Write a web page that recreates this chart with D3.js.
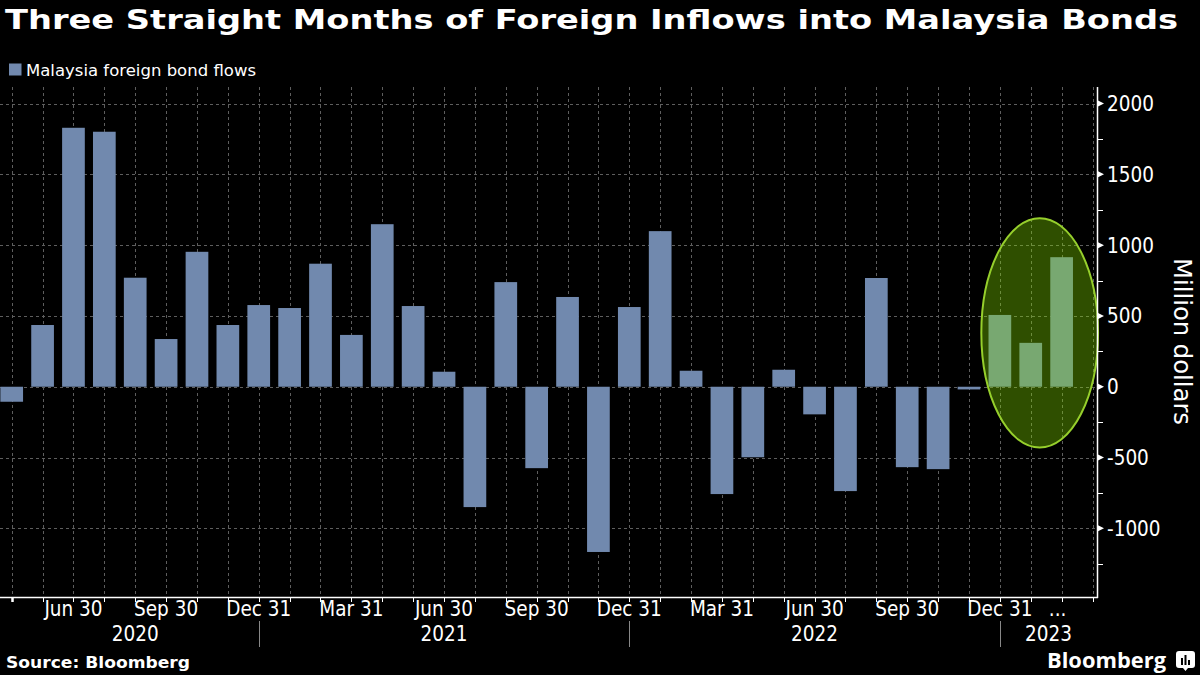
<!DOCTYPE html>
<html>
<head>
<meta charset="utf-8">
<script src="https://cdn.jsdelivr.net/npm/d3@7"></script>
<style>
  html, body { margin: 0; padding: 0; background: #000; }
  svg { display: block; }
  .cond { font-family: "DejaVu Sans Condensed", "DejaVu Sans", sans-serif; font-stretch: condensed; }
</style>
</head>
<body>
<svg id="chart" width="1200" height="675"></svg>
<script>
// ---------- DATA ----------
const months = [
  "2020-04","2020-05","2020-06","2020-07","2020-08","2020-09","2020-10","2020-11","2020-12",
  "2021-01","2021-02","2021-03","2021-04","2021-05","2021-06","2021-07","2021-08","2021-09",
  "2021-10","2021-11","2021-12","2022-01","2022-02","2022-03","2022-04","2022-05","2022-06",
  "2022-07","2022-08","2022-09","2022-10","2022-11","2022-12","2023-01","2023-02","2023-03"
];
const flows = [
  -106, 436, 1829, 1801, 770, 337, 953, 436, 577,
  556, 869, 366, 1148, 570, 106, -850, 739, -575,
  634, -1167, 563, 1099, 113, -758, -498, 120, -195,
  -737, 768, -568, -582, -19, 507, 310, 915
];
const tickLabels = ["Jun 30","Sep 30","Dec 31","Mar 31","Jun 30","Sep 30","Dec 31","Mar 31","Jun 30","Sep 30","Dec 31","..."];
const tickLabelIdx = [2,5,8,11,14,17,20,23,26,29,32,34];
const years = ["2020","2021","2022","2023"];
const yearBounds = [0, 8, 20, 32, 35.15];   // month-index boundaries of each year block
const yTicks = [-1000,-500,0,500,1000,1500,2000];
const yMinor = [-1250,-750,-250,250,750,1250,1750];
const highlight = {from: 31.4, to: 35.18, lo: -430, hi: 1190};

// ---------- LAYOUT ----------
const svg = d3.select("#chart");
const W = 1200, H = 675;
const axisX = 1097, plotTop = 87, plotBottom = 597;

const x = d3.scaleLinear().domain([0, months.length - 1]).range([11.7, 1092.5]);
const y = d3.scaleLinear().domain([-1485, 2117]).range([plotBottom, plotTop]);
const barW = 22.7;
const barColor = "#7189ae";

svg.append("rect").attr("width", W).attr("height", H).attr("fill", "#000");

// Title
svg.append("text")
  .attr("x", 5).attr("y", 29)
  .attr("textLength", 1173).attr("lengthAdjust", "spacingAndGlyphs")
  .attr("font-family", "DejaVu Sans, sans-serif").attr("font-weight", "bold")
  .attr("font-size", 26).attr("fill", "#fff")
  .text("Three Straight Months of Foreign Inflows into Malaysia Bonds");

// Legend
svg.append("rect").attr("x", 9).attr("y", 63.5).attr("width", 12.5).attr("height", 12).attr("fill", barColor);
svg.append("text").attr("x", 26).attr("y", 75.5)
  .attr("font-family", "DejaVu Sans, sans-serif").attr("font-size", 15.5).attr("fill", "#fff")
  .attr("textLength", 230).attr("lengthAdjust", "spacingAndGlyphs")
  .text("Malaysia foreign bond flows");

// Grid
const grid = svg.append("g").attr("stroke", "#5e5e5e").attr("stroke-width", 1).attr("stroke-dasharray", "3,3");
grid.selectAll("line.h").data(yTicks).join("line")
  .attr("x1", 0).attr("x2", axisX).attr("y1", d => Math.round(y(d)) + 0.5).attr("y2", d => Math.round(y(d)) + 0.5);
grid.selectAll("line.v").data(months).join("line")
  .attr("x1", (d, i) => Math.round(x(i)) + 0.5).attr("x2", (d, i) => Math.round(x(i)) + 0.5)
  .attr("y1", plotTop).attr("y2", plotBottom);

// Bars
svg.append("g").selectAll("rect").data(flows).join("rect")
  .attr("x", (d, i) => x(i) - barW / 2)
  .attr("width", barW)
  .attr("y", d => y(Math.max(0, d)))
  .attr("height", d => Math.max(1.5, Math.abs(y(d) - y(0))))
  .attr("fill", barColor);

// Highlight ellipse
svg.append("ellipse")
  .attr("cx", (x(highlight.from) + x(highlight.to)) / 2)
  .attr("cy", (y(highlight.lo) + y(highlight.hi)) / 2)
  .attr("rx", (x(highlight.to) - x(highlight.from)) / 2)
  .attr("ry", (y(highlight.lo) - y(highlight.hi)) / 2)
  .attr("fill", "rgba(134,225,0,0.35)")
  .attr("stroke", "#96cf2c").attr("stroke-width", 2);

// X axis
svg.append("line").attr("x1", 0).attr("x2", axisX + 1).attr("y1", plotBottom + 0.5).attr("y2", plotBottom + 0.5)
  .attr("stroke", "#fff").attr("stroke-width", 1.5);
svg.append("g").selectAll("line").data(months).join("line")
  .attr("x1", (d, i) => Math.round(x(i)) + 0.5).attr("x2", (d, i) => Math.round(x(i)) + 0.5)
  .attr("y1", plotBottom).attr("y2", plotBottom + 5)
  .attr("stroke", "#fff").attr("stroke-width", (d, i) => i === 0 ? 2.5 : 1);

svg.append("g").selectAll("text").data(tickLabels).join("text")
  .attr("class", "cond")
  .attr("x", (d, i) => d === "..." ? x(tickLabelIdx[i]) - 4 : x(tickLabelIdx[i]))
  .attr("y", 616)
  .attr("text-anchor", "middle").attr("font-size", 20.5).attr("fill", "#fff")
  .text(d => d);

// Year separators and labels
svg.append("g").selectAll("line").data(yearBounds.slice(1, -1)).join("line")
  .attr("x1", d => Math.round(x(d)) + 0.5).attr("x2", d => Math.round(x(d)) + 0.5)
  .attr("y1", 621).attr("y2", 647)
  .attr("stroke", "#888").attr("stroke-width", 1);
svg.append("g").selectAll("text").data(years).join("text")
  .attr("class", "cond")
  .attr("x", (d, i) => (x(yearBounds[i]) + x(yearBounds[i + 1])) / 2)
  .attr("y", 641)
  .attr("text-anchor", "middle").attr("font-size", 20.5).attr("fill", "#fff")
  .text(d => d);

// Y axis
svg.append("line").attr("x1", axisX + 0.5).attr("x2", axisX + 0.5).attr("y1", plotTop).attr("y2", plotBottom + 1)
  .attr("stroke", "#fff").attr("stroke-width", 1.5);
svg.append("g").selectAll("path").data(yTicks).join("path")
  .attr("d", d => `M${axisX},${y(d) - 3.5}L${axisX + 7},${y(d)}L${axisX},${y(d) + 3.5}Z`)
  .attr("fill", "#fff");
svg.append("g").selectAll("line").data(yMinor).join("line")
  .attr("x1", axisX).attr("x2", axisX + 6)
  .attr("y1", d => Math.round(y(d)) + 0.5).attr("y2", d => Math.round(y(d)) + 0.5)
  .attr("stroke", "#fff").attr("stroke-width", 1);
svg.append("g").selectAll("text").data(yTicks).join("text")
  .attr("class", "cond")
  .attr("x", axisX + 10).attr("y", d => y(d) + 7.5)
  .attr("font-size", 20.5).attr("fill", "#fff")
  .text(d => d);

svg.append("text")
  .attr("class", "cond")
  .attr("transform", `translate(1174,341.5) rotate(90)`)
  .attr("text-anchor", "middle").attr("font-size", 24).attr("fill", "#fff")
  .attr("textLength", 167).attr("lengthAdjust", "spacingAndGlyphs")
  .text("Million dollars");

// Footer
svg.append("text").attr("x", 6).attr("y", 668)
  .attr("font-family", "DejaVu Sans, sans-serif").attr("font-weight", "bold")
  .attr("font-size", 16.5).attr("fill", "#fff")
  .attr("textLength", 184).attr("lengthAdjust", "spacingAndGlyphs")
  .text("Source: Bloomberg");

svg.append("text").attr("x", 1166).attr("y", 668)
  .attr("text-anchor", "end")
  .attr("font-family", "Open Sans, DejaVu Sans, sans-serif").attr("font-weight", "bold")
  .attr("font-size", 22).attr("fill", "#fff")
  .attr("textLength", 119).attr("lengthAdjust", "spacingAndGlyphs")
  .text("Bloomberg");

// Logo icon
const logo = svg.append("g").attr("transform", "translate(1176,651)");
logo.append("path").attr("d", "M3,0H16Q19,0 19,3V14Q19,17 16,17H12L9.5,20L7,17H3Q0,17 0,14V3Q0,0 3,0Z").attr("fill", "#fff");
logo.append("rect").attr("x", 5).attr("y", 7).attr("width", 2).attr("height", 7).attr("fill", "#000");
logo.append("rect").attr("x", 8.5).attr("y", 4).attr("width", 2).attr("height", 10).attr("fill", "#000");
logo.append("rect").attr("x", 12).attr("y", 9).attr("width", 2).attr("height", 5).attr("fill", "#000");
</script>
</body>
</html>
